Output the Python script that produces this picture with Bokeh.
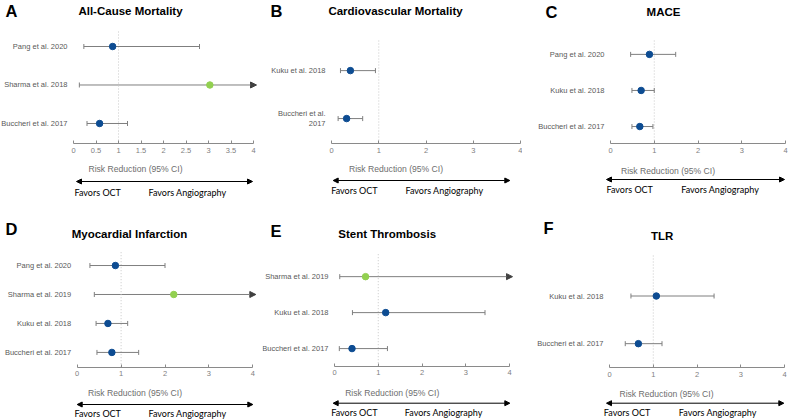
import math
from bokeh.plotting import figure
from bokeh.layouts import column, row
from bokeh.models import Range1d, FixedTicker, CustomJSTickFormatter, Arrow, NormalHead
from bokeh.embed import file_html
from bokeh.resources import INLINE
from bokeh.core.properties import value

# ---------------- data ----------------
a_title = "All-Cause Mortality"
a_studies = ["Pang et al. 2020", "Sharma et al. 2018", "Buccheri et al. 2017"]
a_rr = [0.87, 3.03, 0.58]
a_lo = [0.23, 0.13, 0.30]
a_hi = [2.80, None, 1.20]          # None = upper limit beyond the axis
a_kind = ["obs", "rct", "obs"]

b_title = "Cardiovascular Mortality"
b_studies = ["Kuku et al. 2018", "Buccheri et al.\n2017"]
b_rr = [0.40, 0.32]
b_lo = [0.19, 0.14]
b_hi = [0.93, 0.66]
b_kind = ["obs", "obs"]

c_title = "MACE"
c_studies = ["Pang et al. 2020", "Kuku et al. 2018", "Buccheri et al. 2017"]
c_rr = [0.89, 0.70, 0.67]
c_lo = [0.46, 0.49, 0.49]
c_hi = [1.49, 1.00, 0.97]
c_kind = ["obs", "obs", "obs"]

d_title = "Myocardial Infarction"
d_studies = ["Pang et al. 2020", "Sharma et al. 2019", "Kuku et al. 2018", "Buccheri et al. 2017"]
d_rr = [0.87, 2.20, 0.70, 0.79]
d_lo = [0.29, 0.39, 0.43, 0.45]
d_hi = [2.00, None, 1.15, 1.40]
d_kind = ["obs", "rct", "obs", "obs"]

e_title = "Stent Thrombosis"
e_studies = ["Sharma et al. 2019", "Kuku et al. 2018", "Buccheri et al. 2017"]
e_rr = [0.71, 1.17, 0.40]
e_lo = [0.12, 0.41, 0.11]
e_hi = [None, 3.44, 1.21]
e_kind = ["rct", "obs", "obs"]

f_title = "TLR"
f_studies = ["Kuku et al. 2018", "Buccheri et al. 2017"]
f_rr = [1.07, 0.66]
f_lo = [0.49, 0.36]
f_hi = [2.39, 1.20]
f_kind = ["obs", "obs"]

x_label = "Risk Reduction (95% CI)"
favors_left = "Favors OCT"
favors_right = "Favors Angiography"
x_max = 4
ticks_fine = [0, 0.5, 1, 1.5, 2, 2.5, 3, 3.5, 4]
ticks_unit = [0, 1, 2, 3, 4]
null_value = 1

# ---------------- styling / layout (pixel positions of the page) ----------------
BLUE = "#0D4C92"
GREEN = "#92D050"
BAR = "#7f7f7f"
AX = "#8a8a8a"
ARIAL = "Liberation Sans"
CAL = "Lato"

COLX = [0, 262, 522, 788]
ROWY = [0, 210, 420]

specs = [
    dict(letter="A", col=0, row=0, fl=73, fr=253, ft=31, ax=143, ys=(-0.52, 2.39), ticks=ticks_fine,
         title=(130, 10), let=(5, 10), rr=(135, 168), arr=(76, 252, 181), oct=(74, 192), ang=(148, 192)),
    dict(letter="B", col=1, row=0, fl=331, fr=520, ft=38, ax=143, ys=(-0.52, 1.67), ticks=ticks_unit,
         title=(395, 10), let=(270, 10), rr=(395.5, 168), arr=(332.7, 509.3, 180), oct=(330.7, 190), ang=(405, 190)),
    dict(letter="C", col=2, row=0, fl=610, fr=785, ft=38, ax=143, ys=(-0.47, 2.44), ticks=ticks_unit,
         title=(663, 11), let=(545, 11), rr=(667.5, 170), arr=(606, 784, 179), oct=(606, 189), ang=(680.7, 189)),
    dict(letter="D", col=0, row=1, fl=76.7, fr=252.3, ft=251.7, ax=366.7, ys=(-0.51, 3.46), ticks=ticks_unit,
         title=(129, 233), let=(5, 228), rr=(134.5, 392), arr=(76.7, 252.3, 404), oct=(74, 413.3), ang=(148, 413.3)),
    dict(letter="E", col=1, row=1, fl=334, fr=509, ft=251.7, ax=365.7, ys=(-0.49, 2.68), ticks=ticks_unit,
         title=(386.7, 233), let=(270, 230), rr=(391.7, 392), arr=(332.7, 509.3, 402.7), oct=(330.7, 412), ang=(404.3, 412)),
    dict(letter="F", col=2, row=1, fl=609, fr=784, ft=255, ax=367, ys=(-0.50, 1.85), ticks=ticks_unit,
         title=(661.7, 235), let=(543, 227), rr=(666, 393), arr=(606, 783.3, 402.7), oct=(603.3, 412), ang=(678.3, 412)),
]

datasets = [
    (a_title, a_studies, a_rr, a_lo, a_hi, a_kind),
    (b_title, b_studies, b_rr, b_lo, b_hi, b_kind),
    (c_title, c_studies, c_rr, c_lo, c_hi, c_kind),
    (d_title, d_studies, d_rr, d_lo, d_hi, d_kind),
    (e_title, e_studies, e_rr, e_lo, e_hi, e_kind),
    (f_title, f_studies, f_rr, f_lo, f_hi, f_kind),
]


def build(spec, ds):
    title, studies, rr, lo, hi, kind = ds
    c, r = spec["col"], spec["row"]
    xo, yo = COLX[c], ROWY[r]
    w, h = COLX[c + 1] - xo, ROWY[r + 1] - yo
    fl, fr = spec["fl"] - xo, spec["fr"] - xo
    ft, fa = spec["ft"] - yo, spec["ax"] - yo
    ys, ye = spec["ys"]
    kx = (fr - fl) / x_max
    ky = (fa - ft) / (ye - ys)

    def dx(px):
        return (px - xo - fl) / kx

    def dy(py):
        return ys + (fa - (py - yo)) / ky

    p = figure(width=w, height=h, x_range=Range1d(dx(xo), dx(xo + w)),
               y_range=Range1d(dy(yo + h), dy(yo)),
               output_backend="svg", toolbar_location=None, min_border=0,
               outline_line_color=None)
    p.grid.visible = False

    n = len(studies)
    ypos = [n - 1 - i for i in range(n)]
    xa = p.xaxis[0]
    xa.fixed_location = ys
    xa.bounds = (0, x_max)
    xa.ticker = FixedTicker(ticks=spec["ticks"])
    xa.formatter = CustomJSTickFormatter(code="return tick.toString();")
    xa.axis_line_color = AX
    xa.major_tick_line_color = AX
    xa.major_tick_in = 3
    xa.major_tick_out = 0
    xa.minor_tick_line_color = None
    xa.major_label_text_font = ARIAL
    xa.major_label_text_font_size = "7.5px"
    xa.major_label_text_color = "#808080"
    xa.major_label_standoff = 4

    ya = p.yaxis[0]
    ya.fixed_location = 0
    ya.ticker = FixedTicker(ticks=ypos)
    ya.major_label_overrides = {yv: s for yv, s in zip(ypos, studies)}
    ya.axis_line_color = None
    ya.major_tick_line_color = None
    ya.minor_tick_line_color = None
    ya.major_tick_in = 0
    ya.major_tick_out = 0
    ya.major_label_text_font = ARIAL
    ya.major_label_text_font_size = "7.5px"
    ya.major_label_text_color = "#595959"
    ya.major_label_standoff = 6

    # null line
    p.segment(x0=[null_value], x1=[null_value], y0=[ys], y1=[ye], line_color="#c8c8c8",
              line_dash="1 2", line_width=1)

    closed = [i for i in range(n) if hi[i] is not None]
    opened = [i for i in range(n) if hi[i] is None]
    p.segment(x0=[lo[i] for i in closed], x1=[hi[i] for i in closed],
              y0=[ypos[i] for i in closed], y1=[ypos[i] for i in closed], line_color=BAR, line_width=1)
    cap_x = [lo[i] for i in range(n)] + [hi[i] for i in closed]
    cap_y = [ypos[i] for i in range(n)] + [ypos[i] for i in closed]
    p.scatter(x=cap_x, y=cap_y, marker="dash", angle=math.pi / 2, size=5, line_color=BAR, line_width=1)
    for i in opened:
        p.add_layout(Arrow(x_start=lo[i], y_start=ypos[i], x_end=x_max + 3 / kx, y_end=ypos[i],
                           line_color=BAR, line_width=1, level="underlay",
                           end=NormalHead(size=6, fill_color="#404040", line_color="#404040")))
    cols = [GREEN if k == "rct" else BLUE for k in kind]
    p.scatter(x=rr, y=ypos, size=6.5, fill_color=cols, line_color=cols)

    # panel letter and title
    p.text(x=[dx(spec["let"][0])], y=[dy(spec["let"][1])], text=[spec["letter"]],
           text_font=value(ARIAL), text_font_style="bold", text_font_size="16.5px",
           text_align="left", text_baseline="middle", text_color="black")
    p.text(x=[dx(spec["title"][0])], y=[dy(spec["title"][1])], text=[title],
           text_font=value(ARIAL), text_font_style="bold", text_font_size="11.5px",
           text_align="center", text_baseline="middle", text_color="black")

    # axis title, direction arrow, favors labels
    p.text(x=[dx(spec["rr"][0])], y=[dy(spec["rr"][1])], text=[x_label],
           text_font=value(ARIAL), text_font_size="8.6px", text_color="#6e6e6e",
           text_align="center", text_baseline="middle")
    ax0, ax1, ay = spec["arr"]
    p.add_layout(Arrow(x_start=dx(ax0), x_end=dx(ax1), y_start=dy(ay), y_end=dy(ay),
                       line_color="black", line_width=1,
                       start=NormalHead(size=5, fill_color="black", line_color="black"),
                       end=NormalHead(size=5, fill_color="black", line_color="black")))
    p.text(x=[dx(spec["oct"][0]), dx(spec["ang"][0])], y=[dy(spec["oct"][1]), dy(spec["ang"][1])],
           text=[favors_left, favors_right], text_font=value(CAL), text_font_size="9px",
           text_color="black", text_align="left", text_baseline="middle")
    return p


panels = [build(s, d) for s, d in zip(specs, datasets)]
layout = column(row(*panels[:3]), row(*panels[3:]))

open("out.html", "w").write(file_html(layout, INLINE))
